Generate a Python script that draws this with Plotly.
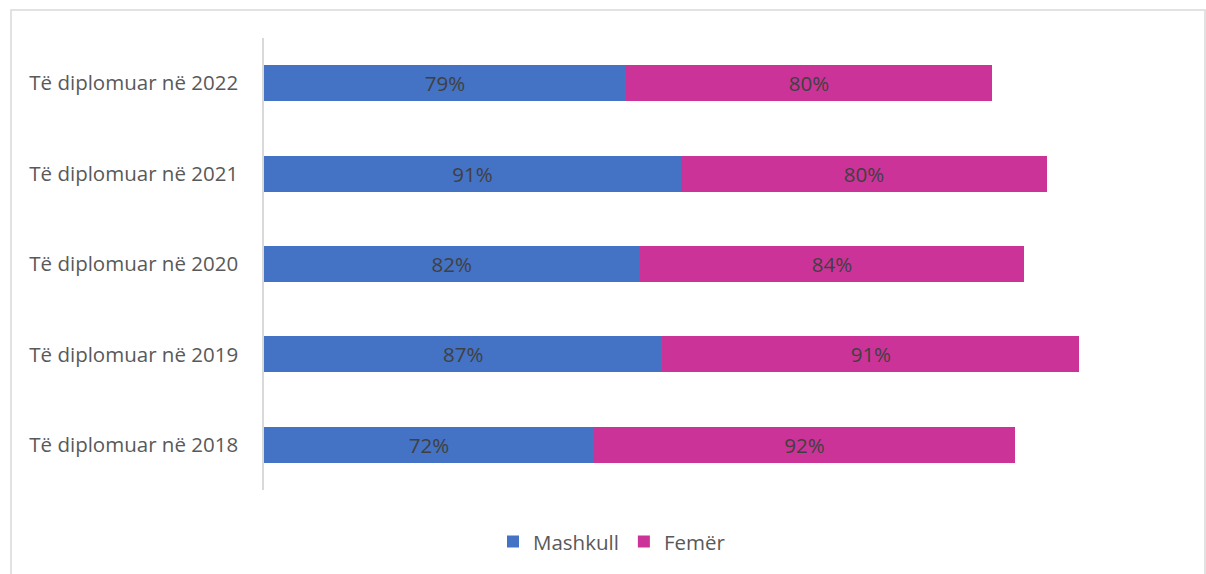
import plotly.graph_objects as go

categories = ["Të diplomuar në 2018", "Të diplomuar në 2019", "Të diplomuar në 2020",
              "Të diplomuar në 2021", "Të diplomuar në 2022"]
mashkull = [72, 87, 82, 91, 79]
femer = [92, 91, 84, 80, 80]
series_names = ["Mashkull", "Femër"]
colors = ["#4472C4", "#CC3399"]

FONT = "Open Sans"
TEXT_GREY = "#595959"
LABEL_GREY = "#404040"
SIZE = 20.5

fig = go.Figure()
for name, vals, col in zip(series_names, [mashkull, femer], colors):
    fig.add_trace(go.Bar(
        y=categories, x=vals, name=name, orientation="h",
        marker=dict(color=col, line=dict(width=0)),
        text=vals, texttemplate="%{text}%", textposition="inside",
        insidetextanchor="middle",
        textfont=dict(family=FONT, size=SIZE, color=LABEL_GREY),
    ))

W, H = 1206, 574
L, R, T, B = 264, 26, 38, 82
pw, ph = W - L - R, H - T - B

def px_x(x):
    return (x - L) / pw

def px_y(y):
    return (H - B - y) / ph

fig.update_layout(
    width=W, height=H,
    margin=dict(l=L, r=R, t=T, b=B),
    paper_bgcolor="white", plot_bgcolor="white",
    barmode="stack", bargap=0.6,
    font=dict(family=FONT, size=SIZE, color=TEXT_GREY),
    xaxis=dict(range=[0, 200], visible=False, fixedrange=True),
    yaxis=dict(
        categoryorder="array", categoryarray=categories,
        showline=True, linecolor="#D9D9D9", linewidth=1.5,
        ticks="", showgrid=False, ticklabelstandoff=20,
        tickfont=dict(family=FONT, size=SIZE, color=TEXT_GREY),
    ),
    showlegend=True,
    legend=dict(
        orientation="h", x=px_x(612), xanchor="center",
        y=px_y(544), yanchor="middle",
        font=dict(family=FONT, size=SIZE, color=TEXT_GREY),
        itemwidth=30, traceorder="normal",
    ),
    shapes=[dict(
        type="rect", xref="paper", yref="paper",
        x0=px_x(11), x1=px_x(1205), y0=px_y(10), y1=px_y(600),
        line=dict(color="#D9D9D9", width=1.5), fillcolor="rgba(0,0,0,0)",
        layer="below",
    )],
)

fig.write_html("out.html")
